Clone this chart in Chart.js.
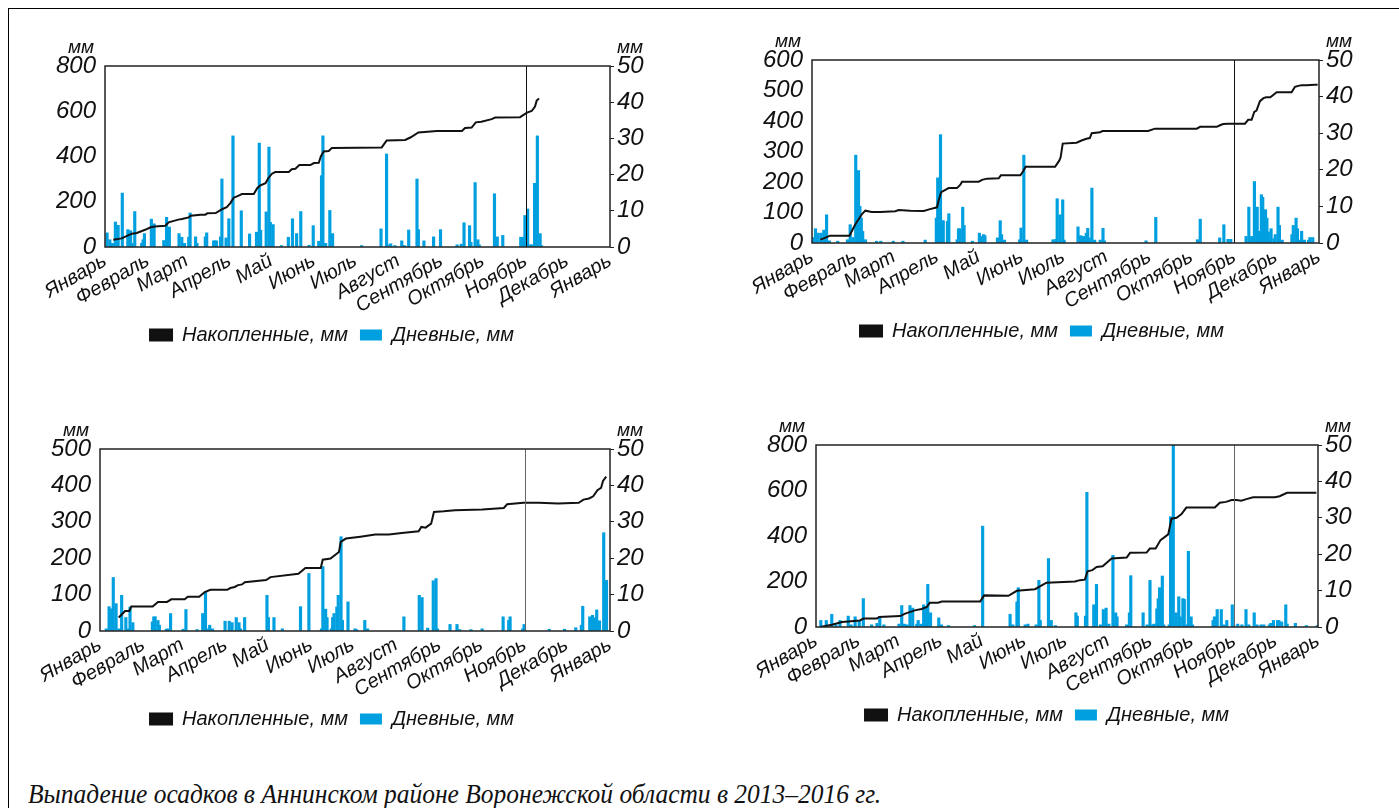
<!DOCTYPE html>
<html lang="ru">
<head>
<meta charset="utf-8">
<title>Выпадение осадков</title>
<script src="https://cdn.jsdelivr.net/npm/chart.js@4.4.1/dist/chart.umd.min.js"></script>
<style>
  html, body { margin: 0; padding: 0; background: #fff; }
  body { width: 1399px; height: 808px; position: relative; overflow: hidden; }
  .frame { position: absolute; left: 8px; top: 8px; width: 1400px; height: 810px;
           border-left: 1px solid #000; border-top: 1px solid #000; }
  canvas { position: absolute; }
  .caption { position: absolute; left: 28px; top: 778px; white-space: nowrap;
             font: italic 27px/32px "Liberation Serif", "DejaVu Serif", serif; color: #111;
             transform: scaleX(0.943); transform-origin: 0 0; }
</style>
</head>
<body>
<div class="frame"></div>
<canvas id="c2013"></canvas>
<canvas id="c2014"></canvas>
<canvas id="c2015"></canvas>
<canvas id="c2016"></canvas>
<div class="caption">Выпадение осадков в Аннинском районе Воронежской области в 2013–2016 гг.</div>
<script>
const FONT = '"Liberation Sans", "Roboto", sans-serif';
const BLUE = '#00a0e0';

const monthNames = ["Январь", "Февраль", "Март", "Апрель", "Май", "Июнь", "Июль",
                    "Август", "Сентябрь", "Октябрь", "Ноябрь", "Декабрь", "Январь"];
const monthStarts = [0, 31, 59, 90, 120, 151, 181, 212, 243, 273, 304, 334, 365];
const monthStartsLeap = [0, 31, 60, 91, 121, 152, 182, 213, 244, 274, 305, 335, 366];

const years = [2013, 2014, 2015, 2016];
const totalAxisMax = [800, 600, 500, 800];
const totalAxisStep = [200, 100, 100, 200];
const dailyAxisMax = 50;
const dailyAxisStep = 10;

// daily precipitation: [day of year, mm]
const daily2013 = [
  [1, 3.9], [3, 2], [4, 1], [5, 1], [7, 6.9], [9, 6], [12, 14.9], [16, 4.8], [18, 4.5], [19, 1],
  [21, 9.8], [26, 1], [27, 2], [28, 3.7], [33, 7.7], [35, 6.4], [42, 1.8], [44, 8.2], [46, 5.5],
  [53, 3.7], [55, 2.7], [57, 1], [60, 2.7], [61, 9.4], [65, 2.8], [66, 1], [72, 2.8], [73, 3.9],
  [78, 1.7], [79, 1.7], [80, 1.7], [83, 2.8], [84, 18.8], [87, 2.5], [89, 7.8], [92, 30.7],
  [98, 10], [104, 3.6], [109, 4.1], [111, 28.7], [112, 4.6], [116, 9.7], [118, 27.6], [119, 6.8],
  [121, 6.2], [127, 0.4], [132, 2.7], [135, 7.8], [138, 3.7], [141, 9.8], [147, 0.5], [150, 5.9],
  [154, 1.6], [156, 19.7], [157, 30.7], [159, 1], [162, 10.1], [164, 3.7],
  [185, 0.4], [199, 5], [203, 25.7], [204, 0.6], [206, 0.9], [209, 0.4], [214, 1.7], [216, 0.4],
  [219, 4.7], [225, 18.8], [226, 4.8], [230, 1.7], [237, 2.8], [242, 4.8], [254, 0.6], [257, 0.8],
  [259, 6.7], [263, 5.9], [264, 1.3], [267, 17.8], [269, 2], [270, 0.6], [281, 14.7], [283, 2.8],
  [287, 3.2], [300, 2.7], [302, 2.7], [303, 8.7], [305, 10.5], [307, 0.6], [308, 0.6], [310, 17.6],
  [312, 30.7], [314, 3.7], [315, 0.4]
];
const daily2014 = [
  [0, 1.5], [2, 3.9], [4, 2.7], [6, 2.7], [8, 3.5], [9, 3.5], [10, 7.7], [12, 0.6], [18, 0.5],
  [25, 0.9], [27, 5], [29, 1.5], [31, 24], [33, 19.8], [34, 10], [35, 6.8], [36, 3.2], [38, 0.9],
  [46, 0.5], [49, 0.5], [58, 0.5], [65, 0.5], [81, 0.8], [89, 6.8], [90, 17.8], [92, 29.6],
  [93, 6.1], [94, 6.1], [97, 5.9], [98, 8], [104, 0.9], [105, 3.9], [106, 3.9], [108, 9.8],
  [109, 4.8], [115, 0.5], [120, 2.7], [121, 1.8], [123, 2.3], [124, 2], [133, 1.4], [135, 6.1],
  [136, 2.3], [138, 0.8], [149, 0.9], [150, 4.1], [152, 24], [154, 0.8], [173, 0.9], [175, 1],
  [176, 12.1], [178, 7.7], [180, 11.8], [181, 0.8], [191, 4.4], [192, 1.8], [193, 2], [195, 1.8],
  [197, 2.7], [198, 4], [199, 1.4], [201, 15], [203, 0.8], [207, 0.8], [209, 4], [210, 0.6],
  [240, 0.6], [247, 7], [277, 0.9], [279, 6.5], [293, 1.4], [296, 5], [299, 1], [301, 1],
  [312, 1.8], [314, 9.8], [316, 1.8], [318, 16.8], [320, 9.8], [321, 3.2], [323, 13.2], [324, 12.5],
  [326, 9.1], [327, 6.8], [328, 3], [329, 1.2], [330, 3.9], [332, 1.2], [333, 2.3], [335, 9.8],
  [336, 4.8], [338, 0.8], [345, 2.3], [346, 4.8], [348, 6.8], [349, 3.9], [351, 0.8], [352, 3.2],
  [354, 0.8], [357, 0.8], [358, 1.5], [360, 1.5]
];
const daily2015 = [
  [4, 0.6], [6, 6.7], [7, 6.1], [9, 14.7], [11, 7.5], [13, 0.6], [15, 9.8], [18, 3.7], [20, 0.6],
  [21, 6.6], [23, 2.3], [37, 2.5], [38, 3.9], [39, 3.9], [41, 2.9], [42, 1.6], [47, 0.5], [48, 0.6],
  [50, 4.8], [59, 0.5], [61, 5.9], [69, 0.4], [73, 4.8], [75, 10.7], [77, 0.6], [78, 1.6], [80, 0.6],
  [89, 2.7], [92, 2.7], [94, 2.3], [97, 3.7], [99, 2.3], [100, 0.6], [103, 3.7], [119, 9.8],
  [120, 3.7], [124, 3.7], [130, 0.6], [143, 6.7], [149, 15.8], [158, 0.6], [159, 17.7], [161, 6],
  [162, 3.7], [165, 0.6], [166, 3.7], [167, 4.8], [169, 6.6], [170, 9.8], [172, 25.9], [173, 2.9],
  [177, 8], [182, 0.6], [183, 0.4], [189, 2.9], [191, 0.6], [217, 3.9], [228, 9.8], [230, 9.2],
  [234, 0.8], [238, 13.8], [240, 14.4], [241, 0.6], [250, 1.8], [255, 1.8], [257, 0.4], [265, 0.4],
  [273, 0.6], [288, 3.9], [292, 2.9], [293, 3.9], [302, 0.6], [303, 1.8], [321, 0.5], [332, 0.5],
  [340, 0.9], [344, 1.6], [345, 6.8], [350, 3.9], [352, 4.3], [354, 3.6], [355, 5.8], [357, 2.8],
  [360, 27], [362, 13.9]
];
const daily2016 = [
  [3, 1.8], [7, 1.8], [11, 3.5], [14, 0.6], [17, 1.8], [23, 3], [25, 0.6], [28, 2.8], [31, 1.6],
  [34, 7.8], [40, 0.6], [44, 1], [46, 2.6], [49, 0.6], [60, 0.8], [62, 5.9], [64, 0.8], [66, 0.6],
  [68, 5.9], [70, 5.2], [73, 0.8], [74, 1.8], [76, 0.8], [78, 6.1], [79, 5.5], [80, 5.3], [81, 11.7],
  [83, 3.9], [89, 2.5], [91, 0.6], [96, 0.4], [115, 0.4], [121, 27.7], [141, 3.5], [143, 0.6],
  [146, 6.9], [147, 10.8], [152, 0.6], [154, 0.8], [160, 0.6], [162, 12.8], [163, 1.8], [169, 18.8],
  [171, 1.8], [174, 0.4], [189, 3.9], [190, 3], [196, 3], [197, 37], [202, 6.1], [204, 11.7],
  [207, 0.6], [209, 4.8], [211, 5.2], [213, 0.8], [216, 19.7], [218, 3.9], [219, 2.8], [226, 0.6],
  [228, 3.9], [229, 14.1], [238, 3.9], [241, 0.6], [243, 12.8], [245, 0.6], [246, 0.8], [248, 5],
  [249, 7.8], [250, 10.8], [252, 14], [253, 0.6], [257, 0.6], [258, 30.3], [260, 50], [262, 3.9],
  [264, 8.3], [265, 2.8], [267, 7.8], [268, 7.6], [270, 0.6], [271, 20.8], [273, 2.8], [274, 0.6],
  [289, 1.8], [290, 2.8], [292, 4.8], [295, 4.8], [297, 0.6], [299, 1.8], [303, 6.1], [304, 0.6],
  [307, 0.8], [310, 0.6], [313, 4.8], [315, 0.6], [319, 3.9], [321, 0.6], [324, 0.6], [326, 0.6],
  [330, 0.6], [331, 1], [333, 1.8], [336, 1.8], [337, 1.8], [339, 1.4], [342, 6.1], [343, 0.8],
  [349, 1], [357, 0.4], [365, 0.4]
];

// accumulated precipitation: [day of year, mm]
const total2013 = [
  [6, 32], [12, 38], [19.5, 59], [23, 62], [29, 76], [33, 87], [36, 91], [43.6, 94], [46, 109],
  [53, 121], [55.6, 124], [60.5, 131], [62, 138], [69, 143], [72.5, 143], [74, 149], [80, 150],
  [82, 157], [85, 168], [88, 176], [90.6, 194], [93, 218], [95.4, 224], [99, 234], [107.5, 234],
  [110, 260], [112, 271], [116, 282], [118, 304], [120.7, 324], [123, 331], [132.8, 332], [135, 344],
  [137.6, 346], [140.5, 362], [148.4, 362], [151, 371], [154.5, 372], [156, 400], [158, 422],
  [161.7, 424], [164, 438], [200, 440], [203.6, 471], [217, 473], [221, 485], [226.5, 506],
  [239.8, 513], [258, 513], [260.2, 526], [265, 528], [268, 551], [272, 554], [279.5, 565],
  [282, 572], [300, 574], [305, 594], [308.4, 601], [310.8, 621], [312, 647], [313.7, 656]
];
const total2014 = [
  [6, 11], [8.9, 16], [13, 24], [27, 24], [31, 60], [36, 95], [38.4, 106], [43, 102], [49, 102],
  [60, 104], [62.4, 108], [70.8, 106], [80.4, 105], [85, 111], [90, 117], [91, 137], [93, 167],
  [95, 172], [98.4, 180], [104.4, 180], [106.8, 191], [108, 201], [120, 201], [122.4, 207],
  [126, 211], [134.4, 212], [136, 222], [150, 222], [152, 235], [153.8, 250], [175, 250], [178, 270],
  [179, 281], [180.5, 326], [190.5, 329], [194, 336], [197.6, 342], [200, 344], [201.4, 360],
  [207.4, 363], [209, 367], [242, 367], [246.9, 375], [277, 375], [279.4, 381], [291.4, 381],
  [293.8, 386], [296, 390], [299.7, 391], [311.7, 391], [314, 404], [316.5, 404], [318.4, 430],
  [320, 434], [322.5, 465], [325, 475], [327, 478], [330, 478], [334.5, 494], [345.3, 494],
  [347.7, 512], [350.8, 516], [352.5, 517], [356, 517], [362, 519], [364, 519]
];
const total2015 = [
  [13.4, 37], [18, 55], [21, 55], [22.4, 67], [37.7, 67], [41.5, 80], [48, 80], [51, 87], [60.6, 87],
  [62.8, 94], [71, 94], [75, 107], [79, 113], [91, 113], [93.3, 118], [96.4, 121], [98.8, 126],
  [101.7, 128], [103.6, 134], [118.9, 140], [122, 148], [142, 157], [147, 173], [158, 173],
  [159.4, 196], [165, 199], [168, 208], [171, 217], [172.3, 245], [176, 254], [186.4, 259],
  [197, 265], [206.7, 265], [216, 269], [228, 274], [230, 286], [233, 284], [237, 295], [239, 327],
  [246, 329], [254, 332], [273.5, 334], [289, 338], [291.4, 348], [303, 352], [314, 352], [328, 350],
  [342.6, 352], [346, 361], [350, 364], [353, 370], [356, 387], [358.6, 393], [360, 412], [362.3, 424]
];
const total2016 = [
  [3, 0], [11.6, 10], [19, 22], [32, 29], [34.7, 37], [44.4, 37], [46, 44], [61.4, 48], [65, 59],
  [72, 73], [77, 79], [80.8, 88], [83, 107], [89, 107], [91.7, 112], [119.7, 112], [122.6, 139],
  [140.3, 137], [146.4, 159], [159.7, 166], [168, 195], [188.8, 200], [192.5, 206], [196, 208],
  [198, 245], [201.5, 250], [204.6, 264], [209, 267], [215.5, 301], [226.5, 305], [229, 326],
  [241, 327], [243.4, 345], [247.6, 345], [251.2, 382], [256.8, 407], [259.2, 476], [262.9, 480],
  [266.5, 496], [270, 525], [290.8, 525], [294.4, 546], [299, 550], [303, 558], [306.6, 558],
  [310, 555], [313.8, 562], [318.7, 570], [334.5, 570], [338, 575], [343.4, 590], [364.8, 590]
];

const dailies = [daily2013, daily2014, daily2015, daily2016];
const totals = [total2013, total2014, total2015, total2016];

// canvas placement and fixed axis sizes for each panel
const panels = [
  { id: 'c2013', left: 0,   top: 26,  width: 664, axisL: 105, axisR: 54, plotH: 181, marker: '#111' },
  { id: 'c2014', left: 724, top: 20,  width: 636, axisL: 88,  axisR: 41, plotH: 183, marker: '#111' },
  { id: 'c2015', left: 0,   top: 409, width: 664, axisL: 100, axisR: 54, plotH: 182, marker: '#666' },
  { id: 'c2016', left: 736, top: 405, width: 622, axisL: 80,  axisR: 40, plotH: 182, marker: '#666' }
];
const PAD_TOP = 40, X_AXIS_H = 66, LEGEND_PAD = 12, LEGEND_FONT = 20;
const LEGEND_H = LEGEND_FONT + LEGEND_PAD + 10;

// box around the plot and the thin line at the start of November
const plotFrame = {
  id: 'plotFrame',
  afterDatasetsDraw(chart, args, opts) {
    const { ctx, chartArea: a, scales: { x } } = chart;
    ctx.save();
    const nx = Math.round(x.getPixelForValue(opts.day)) + 0.5;
    ctx.strokeStyle = opts.color;
    ctx.lineWidth = 1;
    ctx.beginPath();
    ctx.moveTo(nx, a.top);
    ctx.lineTo(nx, a.bottom);
    ctx.stroke();
    ctx.strokeStyle = '#222';
    ctx.lineWidth = 1.5;
    ctx.strokeRect(a.left, a.top, a.right - a.left, a.bottom - a.top);
    ctx.restore();
  }
};

// "мм" above both value axes
const unitLabels = {
  id: 'unitLabels',
  afterDraw(chart) {
    const { ctx, chartArea: a } = chart;
    ctx.save();
    ctx.font = 'italic 19px ' + FONT;
    ctx.fillStyle = '#111';
    ctx.textAlign = 'center';
    ctx.textBaseline = 'middle';
    ctx.fillText('мм', a.left - 24, a.top - 18);
    ctx.fillText('мм', a.right + 20, a.top - 18);
    ctx.restore();
  }
};

function buildChart(p, i) {
  const starts = years[i] % 4 === 0 ? monthStartsLeap : monthStarts;
  const canvas = document.getElementById(p.id);
  canvas.width = p.width;
  canvas.height = PAD_TOP + p.plotH + X_AXIS_H + LEGEND_H;
  canvas.style.left = p.left + 'px';
  canvas.style.top = p.top + 'px';

  const tickFont = { family: FONT, size: 24, style: 'italic' };

  new Chart(canvas, {
    type: 'bar',
    data: {
      datasets: [
        {
          type: 'line',
          label: 'Накопленные, мм',
          data: totals[i].map(([d, v]) => ({ x: d, y: v })),
          yAxisID: 'yL',
          borderColor: '#111',
          backgroundColor: '#111',
          borderWidth: 2,
          pointRadius: 0,
          tension: 0,
          order: 1
        },
        {
          type: 'bar',
          label: 'Дневные, мм',
          data: dailies[i].map(([d, v]) => ({ x: d + 0.5, y: v })),
          yAxisID: 'yR',
          backgroundColor: BLUE,
          borderWidth: 0,
          barThickness: 2.5,
          order: 2
        }
      ]
    },
    options: {
      responsive: false,
      animation: false,
      devicePixelRatio: 1,
      layout: { padding: { top: PAD_TOP, left: 0, right: 0, bottom: 0 } },
      scales: {
        x: {
          type: 'linear',
          min: 0,
          max: starts[12],
          offset: false,
          grid: { display: false, drawTicks: false },
          border: { display: false },
          afterBuildTicks: axis => { axis.ticks = starts.map(v => ({ value: v })); },
          afterFit: axis => { axis.height = X_AXIS_H; },
          ticks: {
            autoSkip: false,
            minRotation: 30,
            maxRotation: 30,
            padding: 2,
            color: '#111',
            font: { family: FONT, size: 20, style: 'italic' },
            callback: (v, idx) => monthNames[idx]
          }
        },
        yL: {
          position: 'left',
          min: 0,
          max: totalAxisMax[i],
          grid: { display: false, drawTicks: false },
          border: { display: false },
          afterFit: axis => { axis.width = p.axisL; },
          ticks: { stepSize: totalAxisStep[i], autoSkip: false, padding: 9, color: '#111', font: tickFont }
        },
        yR: {
          position: 'right',
          min: 0,
          max: dailyAxisMax,
          grid: { display: true, drawOnChartArea: false, drawTicks: true, tickLength: 4, color: '#222' },
          border: { display: false },
          afterFit: axis => { axis.width = p.axisR; },
          ticks: { stepSize: dailyAxisStep, autoSkip: false, padding: 3, color: '#111', font: tickFont }
        }
      },
      plugins: {
        legend: {
          position: 'bottom',
          labels: {
            boxWidth: 22,
            boxHeight: 11,
            padding: LEGEND_PAD,
            color: '#111',
            font: { family: FONT, size: LEGEND_FONT, style: 'italic' }
          }
        },
        tooltip: { enabled: false },
        plotFrame: { day: starts[10], color: p.marker }
      }
    },
    plugins: [plotFrame, unitLabels]
  });
}

panels.forEach(buildChart);
</script>
</body>
</html>
